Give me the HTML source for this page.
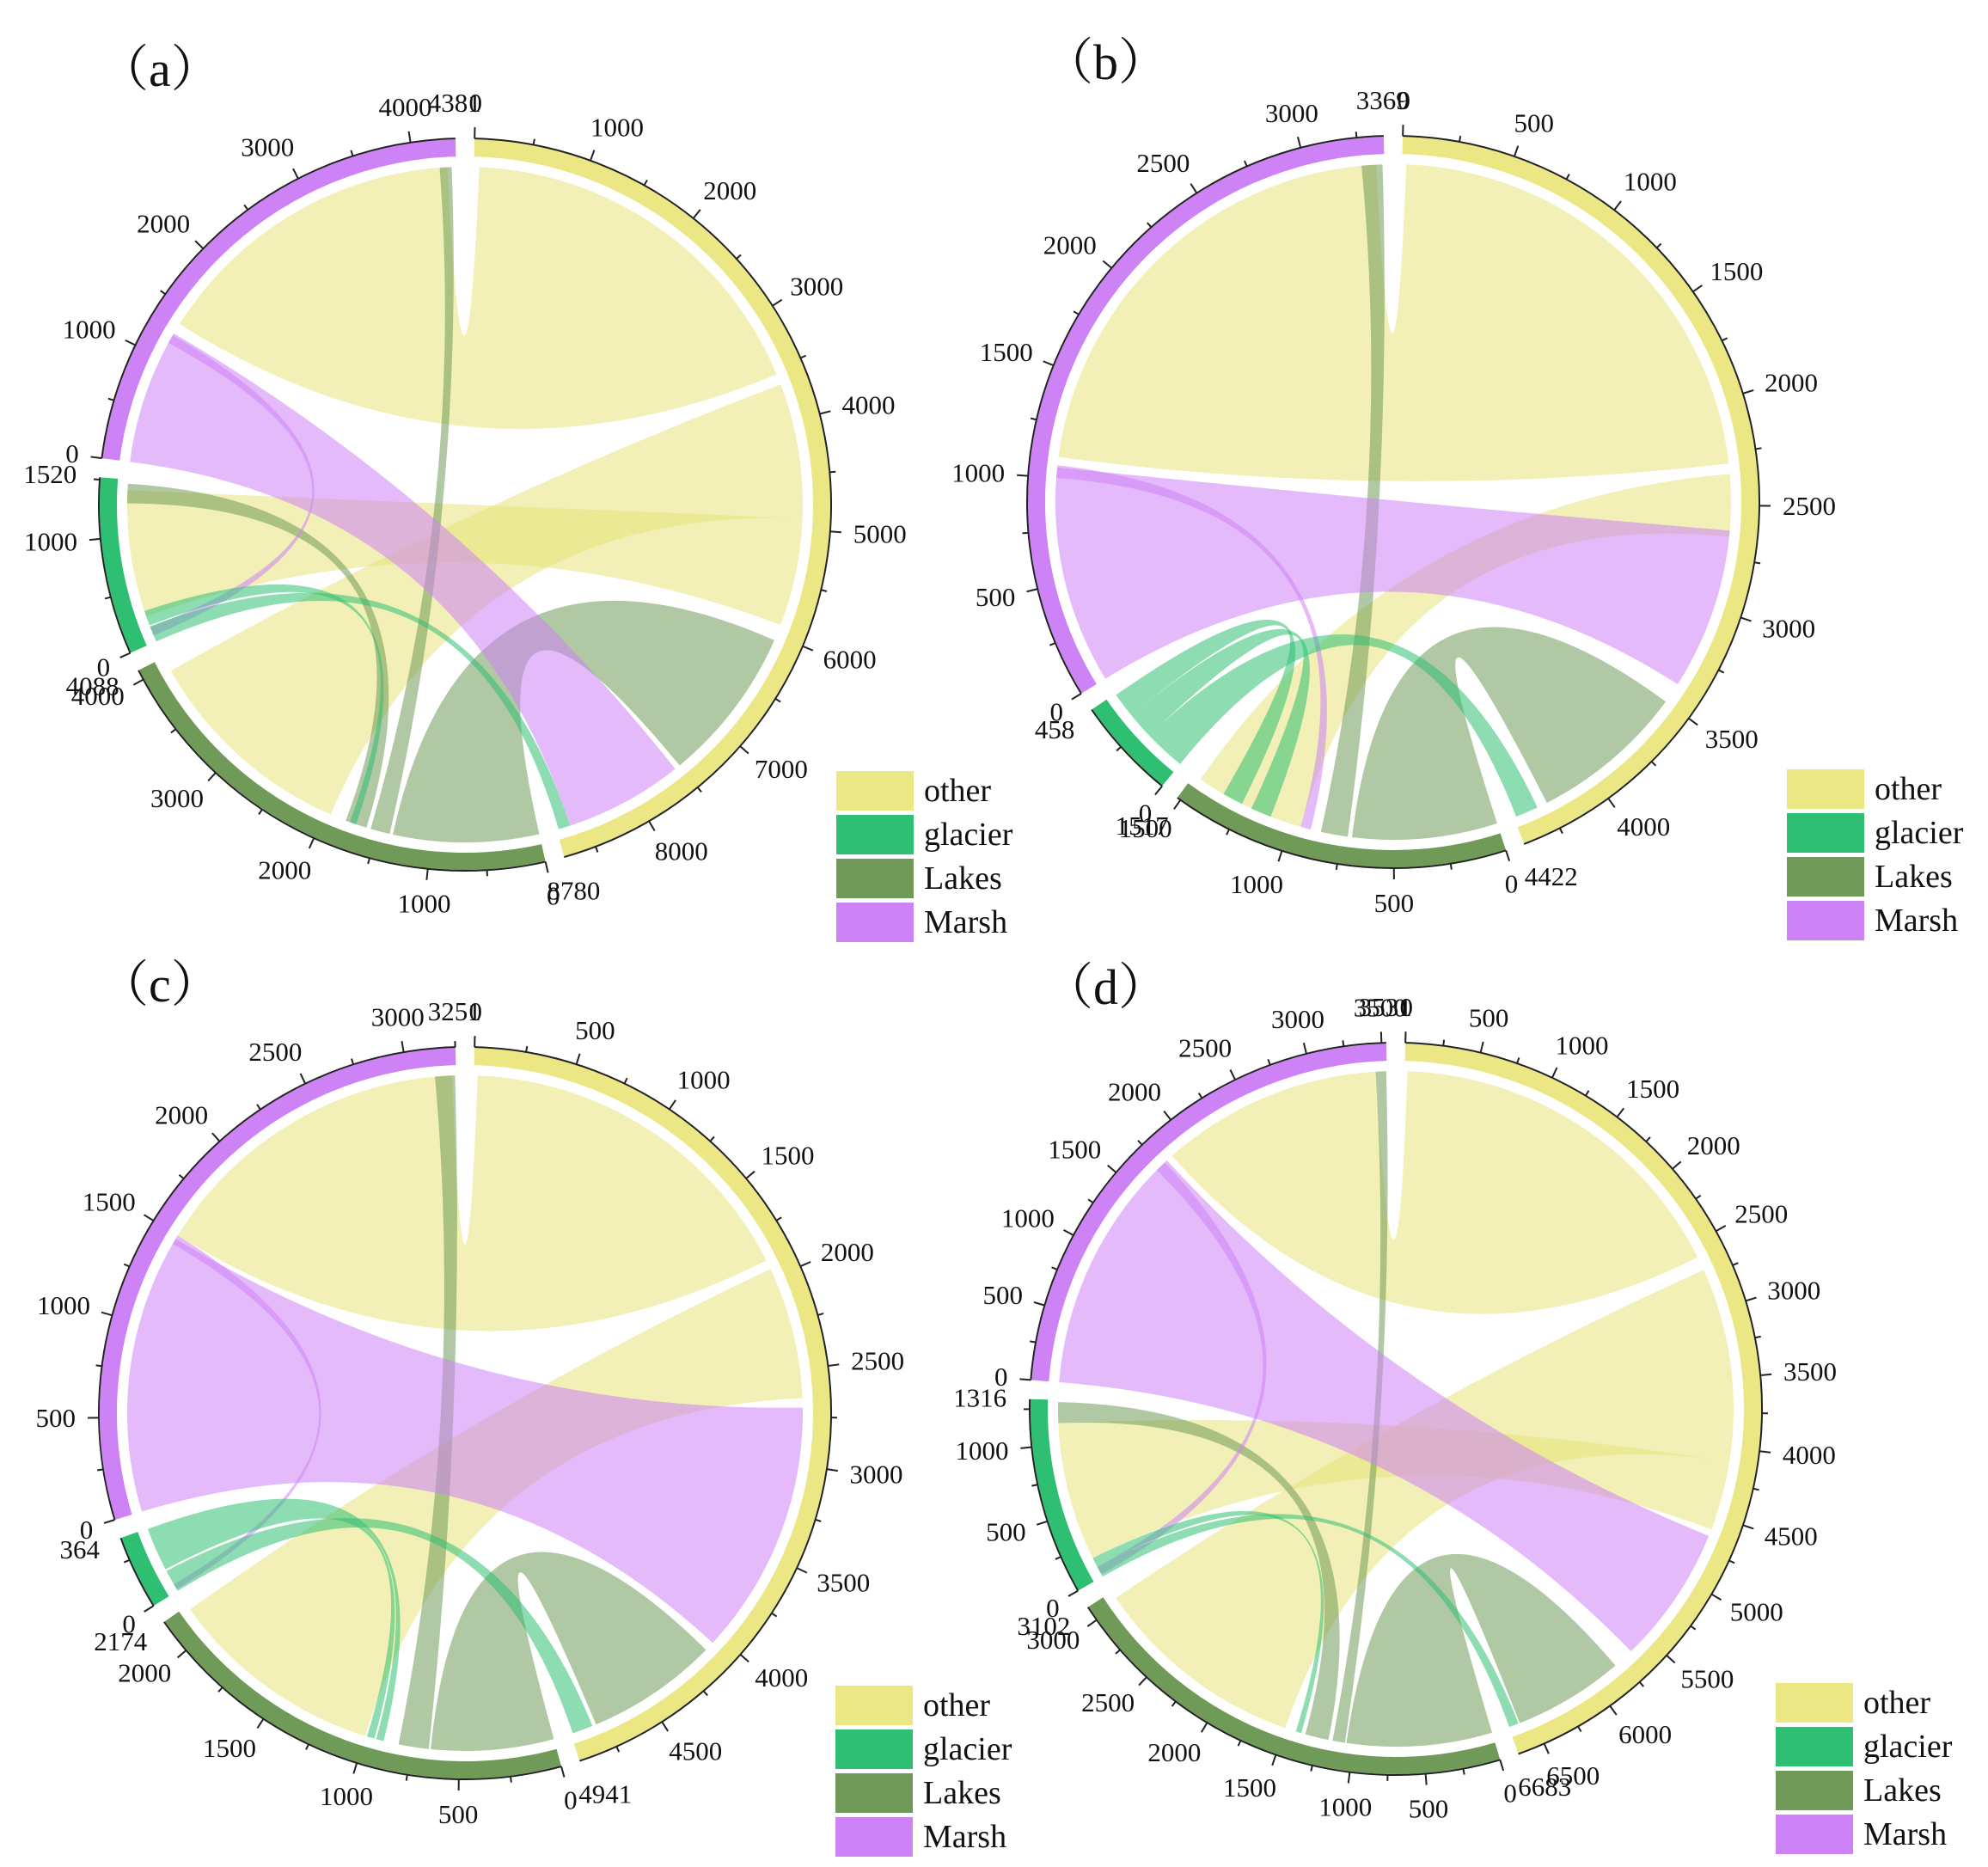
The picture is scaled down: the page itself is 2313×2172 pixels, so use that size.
<!DOCTYPE html>
<html><head><meta charset="utf-8">
<style>
html,body{margin:0;padding:0;background:#fff;}
svg{display:block;font-family:"Liberation Serif",serif;}
</style></head>
<body>
<svg id="fig" width="2313" height="2172" viewBox="0 0 2313 2172" xmlns="http://www.w3.org/2000/svg"></svg>
<script>
// group order: other, Lakes, glacier, Marsh
const groupNames = ["other","Lakes","glacier","Marsh"];
const legendNames = ["other","glacier","Lakes","Marsh"];
const sizesA = [8780, 4088, 1520, 4381];
const sizesB = [4422, 1517, 458, 3369];
const sizesC = [4941, 2174, 364, 3251];
const sizesD = [6683, 3102, 1316, 3531];
const stepsA = [1000, 1000, 1000, 1000];
const stepsB = [500, 500, 500, 500];
const stepsC = [500, 500, 500, 500];
const stepsD = [500, 500, 500, 500];
// ribbons: [groupIdx1, from, to, groupIdx2, from, to]
const ribbonsA = [
 [0,50,3550, 3,1350,4300],
 [0,3650,4900, 1,1950,3950],
 [0,4900,5900, 2,250,1420],
 [1,0,1350, 0,6050,7500],
 [1,1380,1560, 3,4230,4340],
 [1,1600,1800, 2,1300,1480],
 [3,0,1250, 0,7550,8650],
 [3,1150,1230, 2,60,140],
 [2,0,150, 0,8650,8760],
 [2,160,300, 1,1700,1760]
];
const ribbonsB = [
 [0,20,2300, 3,1100,3330],
 [0,2350,2650, 1,950,1480],
 [1,0,700, 0,3500,4250],
 [1,720,850, 3,3260,3360],
 [3,0,1050, 0,2620,3400],
 [3,1000,1060, 1,900,950],
 [2,0,200, 0,4300,4410],
 [2,200,330, 1,1100,1200],
 [2,330,450, 1,1250,1350]
];
const ribbonsC = [
 [0,20,1900, 3,1500,3230],
 [0,1950,2650, 1,1000,2150],
 [1,0,650, 0,4100,4800],
 [1,660,820, 3,3140,3245],
 [3,0,1480, 0,2700,4050],
 [3,1450,1500, 2,10,40],
 [2,0,120, 0,4820,4930],
 [2,130,250, 1,950,990],
 [2,250,360, 1,900,940]
];
const ribbonsD = [
 [0,20,2600, 3,1850,3450],
 [0,2700,4100, 1,1500,3050],
 [0,4100,4600, 2,150,1150],
 [1,0,1050, 0,5800,6600],
 [1,1060,1150, 3,3450,3525],
 [1,1180,1350, 2,1150,1300],
 [3,0,1800, 0,4650,5650],
 [3,1700,1780, 2,20,80],
 [2,0,80, 0,6610,6680],
 [2,80,150, 1,1380,1420]
];
const panels = [
 {lab:"（a）", lx:115, ly:80, cx:541, cy:587, sizes:sizesA, steps:stepsA, ribbons:ribbonsA, legX:973, legY:897},
 {lab:"（b）", lx:1214, ly:72, cx:1621, cy:584, sizes:sizesB, steps:stepsB, ribbons:ribbonsB, legX:2079, legY:895},
 {lab:"（c）", lx:115, ly:1145, cx:541, cy:1644, sizes:sizesC, steps:stepsC, ribbons:ribbonsC, legX:972, legY:1961},
 {lab:"（d）", lx:1214, ly:1148, cx:1624, cy:1639, sizes:sizesD, steps:stepsD, ribbons:ribbonsD, legX:2066, legY:1958}
];
const ringCol = {other:"#ebe784", Lakes:"#6f9a57", glacier:"#2fbf72", Marsh:"#cd82f6"};
const ribCol = {other:"#e8e37a", Lakes:"#6f9a57", glacier:"#2fbf72", Marsh:"#cd82f6"};
const NS="http://www.w3.org/2000/svg";
const svg=document.getElementById('fig');
function mk(tag, attrs, parent){const e=document.createElementNS(NS,tag);for(const k in attrs)e.setAttribute(k,attrs[k]);(parent||svg).appendChild(e);return e;}
const R_OUT=425, R_IN=405, R_RIB=393, GAP=3;
function pt(cx,cy,r,a){const t=a*Math.PI/180;return [cx+r*Math.sin(t), cy-r*Math.cos(t)];}
panels.forEach((p,pi)=>{
 const g=mk('g',{});
 
 
 const total=p.sizes.reduce((a,b)=>a+b,0);
 const k=(360-4*GAP)/total;
 const starts=[];let a=GAP/2;
 p.sizes.forEach(s=>{starts.push(a);a+=s*k+GAP;});
 const ang=(gi,v)=>starts[gi]+v*k;
 const order=[...p.ribbons].sort((x,y)=>(x[0]===0?0:1)-(y[0]===0?0:1));
 order.forEach(rb=>{
  const [g1,a1,a2,g2,b1,b2]=rb;
  const A1=pt(p.cx,p.cy,R_RIB,ang(g1,a1)),A2=pt(p.cx,p.cy,R_RIB,ang(g1,a2));
  const B1=pt(p.cx,p.cy,R_RIB,ang(g2,b1)),B2=pt(p.cx,p.cy,R_RIB,ang(g2,b2));
  const la=(ang(g1,a2)-ang(g1,a1))>180?1:0, lb=(ang(g2,b2)-ang(g2,b1))>180?1:0;
  const d=`M${A1}A${R_RIB},${R_RIB} 0 ${la} 1 ${A2}Q${p.cx},${p.cy} ${B1}A${R_RIB},${R_RIB} 0 ${lb} 1 ${B2}Q${p.cx},${p.cy} ${A1}Z`;
  const e=mk('path',{d:d,fill:ribCol[groupNames[g1]],'fill-opacity':0.55},g);
  
  
 });
 p.sizes.forEach((s,gi)=>{
  const s0=ang(gi,0),s1=ang(gi,s);
  const o0=pt(p.cx,p.cy,R_OUT,s0),o1=pt(p.cx,p.cy,R_OUT,s1),i0=pt(p.cx,p.cy,R_IN,s0),i1=pt(p.cx,p.cy,R_IN,s1);
  const lf=(s1-s0)>180?1:0;
  const e=mk('path',{d:`M${o0}A${R_OUT},${R_OUT} 0 ${lf} 1 ${o1}L${i1}A${R_IN},${R_IN} 0 ${lf} 0 ${i0}Z`,fill:ringCol[groupNames[gi]]},g);
  
  
  const ax=mk('path',{d:`M${pt(p.cx,p.cy,R_OUT+1,s0)}A${R_OUT+1},${R_OUT+1} 0 ${lf} 1 ${pt(p.cx,p.cy,R_OUT+1,s1)}`,fill:'none',stroke:'#222','stroke-width':2},g);
  
  
  const st=p.steps[gi];
  const ticks=[];
  for(let v=0;v<=s;v+=st/2)ticks.push(v);
  ticks.forEach(v=>{
   const major=(v%st===0);
   const aa=ang(gi,v);
   const t0=pt(p.cx,p.cy,R_OUT+1,aa),t1=pt(p.cx,p.cy,R_OUT+(major?14:8),aa);
   mk('line',{x1:t0[0],y1:t0[1],x2:t1[0],y2:t1[1],stroke:'#222','stroke-width':2},g);
  });
  const labs=[];
  for(let v=0;v<=s;v+=st)labs.push(v);
  if(labs[labs.length-1]!==s)labs.push(s);
  labs.forEach(v=>{
   const aa=ang(gi,v);
   const q=pt(p.cx,p.cy,R_OUT+42,aa);
   const sn=Math.sin(aa*Math.PI/180);
   const anc=sn>0.3?'start':(sn<-0.3?'end':'middle');
   const tx=mk('text',{x:q[0]+(anc==='start'?-14:anc==='end'?14:0),y:q[1]+10,'font-size':31,'text-anchor':anc,fill:'#111'},g);
   tx.textContent=v;
   
   
  });
 });
 const t=mk('text',{x:p.lx,y:p.ly+20,'font-size':58,fill:'#111','font-family':'"Liberation Serif","Noto Serif CJK SC",serif'},g);
 t.textContent=p.lab;
 
 
 legendNames.forEach((n,li)=>{
  const y=p.legY+li*51;
  const r=mk('rect',{x:p.legX,y:y,width:90,height:46,fill:ringCol[n]},g);
  
  
  const tx=mk('text',{x:p.legX+102,y:y+35,'font-size':38,fill:'#111'},g);
  tx.textContent=n;
  
  
 });
});
</script>
</body></html>
